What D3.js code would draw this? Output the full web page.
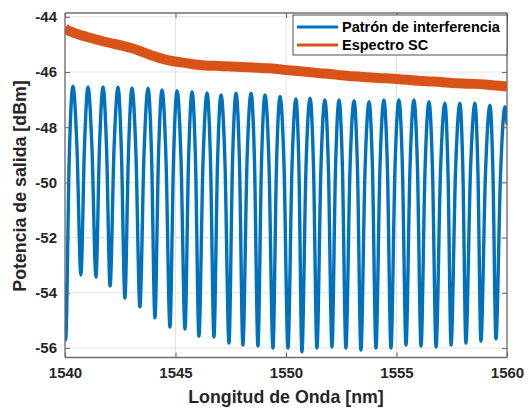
<!DOCTYPE html>
<html><head><meta charset="utf-8">
<script src="https://cdn.jsdelivr.net/npm/d3@7"></script>
<style>body{margin:0;background:#fff}svg{display:block}</style>
</head><body>
<script>
// ---- data ----
const xTicks = [1540, 1545, 1550, 1555, 1560];
const yTicks = [-56, -54, -52, -50, -48, -46, -44];
const seriesNames = ["Patrón de interferencia", "Espectro SC"];

// interference pattern: trough / shoulder / peak samples (wavelength nm, power dBm)
const blueWl = [1540.00, 1540.03, 1540.195, 1540.36, 1540.54, 1540.72, 1540.88, 1541.04, 1541.22, 1541.40,
  1541.56, 1541.72, 1541.88, 1542.04, 1542.22, 1542.40, 1542.555, 1542.71, 1542.87, 1543.03,
  1543.21, 1543.39, 1543.575, 1543.76, 1543.915, 1544.07, 1544.23, 1544.39, 1544.57, 1544.75,
  1544.91, 1545.07, 1545.25, 1545.43, 1545.59, 1545.75, 1545.905, 1546.06, 1546.245, 1546.43,
  1546.585, 1546.74, 1546.90, 1547.06, 1547.24, 1547.42, 1547.58, 1547.74, 1547.895, 1548.05,
  1548.235, 1548.42, 1548.575, 1548.73, 1548.89, 1549.05, 1549.23, 1549.41, 1549.57, 1549.73,
  1549.91, 1550.09, 1550.27, 1550.45, 1550.585, 1550.72, 1550.905, 1551.09, 1551.245, 1551.40,
  1551.58, 1551.76, 1551.92, 1552.08, 1552.24, 1552.40, 1552.555, 1552.71, 1552.895, 1553.08,
  1553.235, 1553.39, 1553.575, 1553.76, 1553.915, 1554.07, 1554.25, 1554.43, 1554.59, 1554.75,
  1554.93, 1555.11, 1555.27, 1555.43, 1555.61, 1555.79, 1555.95, 1556.11, 1556.29, 1556.47,
  1556.63, 1556.79, 1556.99, 1557.19, 1557.33, 1557.47, 1557.67, 1557.87, 1558.005, 1558.14,
  1558.345, 1558.55, 1558.685, 1558.82, 1559.025, 1559.23, 1559.365, 1559.50, 1559.705, 1559.91,
  1560.00];
const blueDb = [-53.6, -55.70, -49.00, -46.51, -48.71, -53.36, -48.74, -46.54, -48.74, -53.43,
  -48.74, -46.54, -48.74, -53.75, -48.75, -46.55, -48.95, -54.19, -48.98, -46.58,
  -48.98, -54.51, -48.99, -46.59, -48.99, -54.91, -49.05, -46.65, -49.15, -55.24,
  -49.18, -46.68, -49.18, -55.31, -49.21, -46.71, -49.21, -55.57, -49.26, -46.76,
  -49.26, -55.60, -49.33, -46.83, -49.33, -55.82, -49.27, -46.77, -49.27, -55.89,
  -49.27, -46.77, -49.27, -55.93, -49.33, -46.83, -49.33, -56.00, -49.39, -46.89,
  -49.39, -56.00, -49.48, -46.98, -49.48, -56.14, -49.45, -46.95, -49.45, -56.00,
  -49.51, -47.01, -49.51, -55.96, -49.51, -47.01, -49.51, -56.00, -49.54, -47.04,
  -49.54, -56.07, -49.58, -47.08, -49.58, -56.00, -49.51, -47.01, -49.51, -56.00,
  -49.51, -47.01, -49.51, -55.89, -49.51, -47.01, -49.51, -55.93, -49.58, -47.08,
  -49.58, -55.96, -49.63, -47.13, -49.63, -55.89, -49.63, -47.13, -49.63, -55.82,
  -49.63, -47.13, -49.63, -55.75, -49.70, -47.20, -49.70, -55.67, -49.76, -47.26,
  -47.90];

// SC spectrum (every 0.5 nm)
const orangeWl = [1540, 1540.5, 1541, 1541.5, 1542, 1542.5, 1543, 1543.5, 1544, 1544.5,
  1545, 1545.5, 1546, 1546.5, 1547, 1547.5, 1548, 1548.5, 1549, 1549.5,
  1550, 1550.5, 1551, 1551.5, 1552, 1552.5, 1553, 1553.5, 1554, 1554.5,
  1555, 1555.5, 1556, 1556.5, 1557, 1557.5, 1558, 1558.5, 1559, 1559.5, 1560];
const orangeDb = [-44.44, -44.61, -44.73, -44.84, -44.94, -45.03, -45.13, -45.27, -45.42, -45.54,
  -45.62, -45.68, -45.74, -45.77, -45.78, -45.80, -45.82, -45.84, -45.86, -45.88,
  -45.93, -45.96, -46.00, -46.04, -46.07, -46.12, -46.15, -46.18, -46.21, -46.23,
  -46.25, -46.28, -46.32, -46.34, -46.36, -46.40, -46.42, -46.43, -46.45, -46.49, -46.53];

const W = 529, H = 413;
const m = {l: 65, r: 507, t: 13, b: 357.5};
const FONT = "'Liberation Sans', Arial, sans-serif";
const AX = "#262626";

const svg = d3.select("body").append("svg").attr("width", W).attr("height", H)
  .style("font-family", FONT);

const x = d3.scaleLinear().domain([1540, 1560]).range([m.l, m.r]);
const y = d3.scaleLinear().domain([-56.344, -43.862]).range([m.b, m.t]);

// grid
const g = svg.append("g");
g.selectAll(".gx").data(xTicks).enter().append("line")
  .attr("x1", d => x(d)).attr("x2", d => x(d)).attr("y1", m.t).attr("y2", m.b)
  .attr("stroke", "#e3e3e3").attr("stroke-width", 1);
g.selectAll(".gy").data(yTicks).enter().append("line")
  .attr("x1", m.l).attr("x2", m.r).attr("y1", d => y(d)).attr("y2", d => y(d))
  .attr("stroke", "#e3e3e3").attr("stroke-width", 1);

svg.append("clipPath").attr("id", "clip").append("rect")
  .attr("x", m.l).attr("y", m.t).attr("width", m.r - m.l).attr("height", m.b - m.t);

const plot = svg.append("g").attr("clip-path", "url(#clip)");

const orangeLine = d3.line().x((d, i) => x(orangeWl[i])).y(d => y(d)).curve(d3.curveMonotoneX);
plot.append("path").datum(orangeDb).attr("d", orangeLine)
  .attr("fill", "none").attr("stroke", "#D95319").attr("stroke-width", 10)
  .attr("stroke-linejoin", "round");

const blueLine = d3.line().x((d, i) => x(blueWl[i])).y(d => y(d)).curve(d3.curveMonotoneX);
plot.append("path").datum(blueDb).attr("d", blueLine)
  .attr("fill", "none").attr("stroke", "#0072BD").attr("stroke-width", 3.4)
  .attr("stroke-linejoin", "round");

// axes
const xAxisB = d3.axisBottom(x).tickValues(xTicks).tickSize(-5).tickPadding(10).tickFormat(d3.format("d"));
const xAxisT = d3.axisTop(x).tickValues(xTicks).tickSize(-5).tickFormat("");
const yAxisL = d3.axisLeft(y).tickValues(yTicks).tickSize(-5).tickPadding(8).tickFormat(d => d3.format("d")(d).replace("−", "-"));
const yAxisR = d3.axisRight(y).tickValues(yTicks).tickSize(-5).tickFormat("");

function style(sel) {
  sel.selectAll("path").attr("stroke", "#6e6e6e").attr("stroke-width", 1.3);
  sel.selectAll("line").attr("stroke", "#6e6e6e").attr("stroke-width", 1.1);
  sel.selectAll("text").attr("fill", AX).style("font-size", "15px").style("font-weight", "bold")
    .style("font-family", FONT);
}
svg.append("g").attr("transform", `translate(0,${m.b})`).call(xAxisB).call(style)
  .call(s => s.selectAll(".domain").attr("d", `M${m.l},0H${m.r}`));
svg.append("g").attr("transform", `translate(0,${m.t})`).call(xAxisT).call(style)
  .call(s => s.selectAll(".domain").attr("d", `M${m.l},0H${m.r}`));
svg.append("g").attr("transform", `translate(${m.l},0)`).call(yAxisL).call(style)
  .call(s => s.selectAll(".domain").attr("d", `M0,${m.t}V${m.b}`));
svg.append("g").attr("transform", `translate(${m.r},0)`).call(yAxisR).call(style)
  .call(s => s.selectAll(".domain").attr("d", `M0,${m.t}V${m.b}`));

// axis labels
svg.append("text").attr("x", (m.l + m.r) / 2).attr("y", 403).attr("text-anchor", "middle")
  .style("font-size", "17.8px").style("font-weight", "bold").attr("fill", AX)
  .text("Longitud de Onda [nm]");
svg.append("text").attr("transform", `translate(26,186) rotate(-90)`)
  .attr("text-anchor", "middle")
  .style("font-size", "17.8px").style("font-weight", "bold").attr("fill", AX)
  .text("Potencia de salida [dBm]");

// legend
const lg = svg.append("g");
lg.append("rect").attr("x", 293).attr("y", 15).attr("width", 214).attr("height", 40)
  .attr("fill", "#fff").attr("stroke", "#262626").attr("stroke-width", 0.8);
const colors = ["#0072BD", "#D95319"];
seriesNames.forEach((n, i) => {
  const yy = 27 + i * 18;
  lg.append("line").attr("x1", 297).attr("x2", 338).attr("y1", yy).attr("y2", yy)
    .attr("stroke", colors[i]).attr("stroke-width", 3);
  lg.append("text").attr("x", 342).attr("y", yy + 5)
    .style("font-size", "14.5px").style("font-weight", "bold").attr("fill", "#000").text(n);
});
</script>
</body></html>
